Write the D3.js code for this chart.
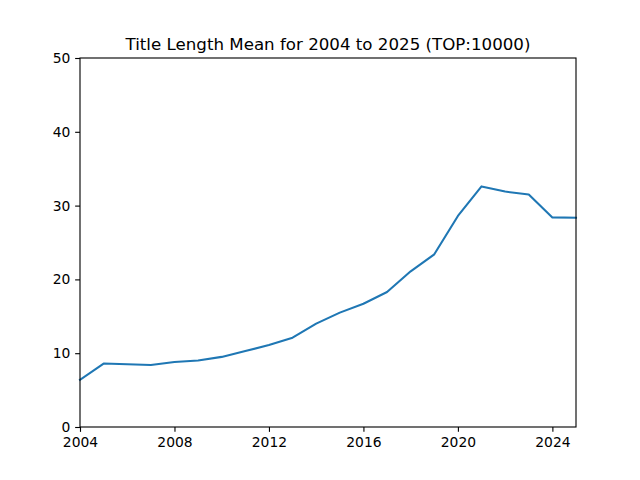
<!DOCTYPE html>
<html><head><meta charset="utf-8">
<script src="https://cdn.jsdelivr.net/npm/d3@7"></script>
<style>body{margin:0;background:#fff}svg{display:block}</style>
</head><body>
<script>
const years = [2004,2005,2006,2007,2008,2009,2010,2011,2012,2013,2014,2015,2016,2017,2018,2019,2020,2021,2022,2023,2024,2025];
const meanLength = [6.4,8.6,8.5,8.4,8.8,9.0,9.5,10.3,11.1,12.1,14.0,15.5,16.7,18.3,21.1,23.4,28.6,32.6,31.9,31.5,28.4,28.35];
const xTicks = [2004,2008,2012,2016,2020,2024];
const yTicks = [0,10,20,30,40,50];
const titleText = "Title Length Mean for 2004 to 2025 (TOP:10000)";

const W=640,H=480,L=80,R=576,T=58,B=427;
const svg=d3.select("body").append("svg").attr("width",W).attr("height",H);
const x=d3.scaleLinear().domain([2004,2025]).range([L,R]);
const y=d3.scaleLinear().domain([0,50]).range([B,T]);
const font="DejaVu Sans, sans-serif";

svg.append("path").datum(years.map((d,i)=>[d,meanLength[i]]))
  .attr("fill","none").attr("stroke","#1f77b4").attr("stroke-width",2.08)
  .attr("stroke-linejoin","round").attr("stroke-linecap","square")
  .attr("d",d3.line().x(d=>x(d[0])).y(d=>y(d[1])));

const xa=svg.append("g").attr("transform",`translate(0,${B})`)
  .call(d3.axisBottom(x).tickValues(xTicks).tickFormat(d3.format("d")).tickSizeInner(4.86).tickSizeOuter(0).tickPadding(4.86));
const ya=svg.append("g").attr("transform",`translate(${L},0)`)
  .call(d3.axisLeft(y).tickValues(yTicks).tickSizeInner(4.86).tickSizeOuter(0).tickPadding(4.86));
[xa,ya].forEach(a=>{
  a.select(".domain").remove();
  a.selectAll("line").attr("stroke","#000").attr("stroke-width",1.11);
  a.selectAll("text").attr("font-family",font).attr("font-size","13.89px").attr("fill","#000");
});

svg.append("rect").attr("x",L).attr("y",T).attr("width",R-L).attr("height",B-T)
  .attr("fill","none").attr("stroke","#000").attr("stroke-width",1.11);

svg.append("text").attr("x",(L+R)/2).attr("y",T-8.33).attr("text-anchor","middle")
  .attr("font-family",font).attr("font-size","16.67px").attr("fill","#000").text(titleText);
</script>
</body></html>
